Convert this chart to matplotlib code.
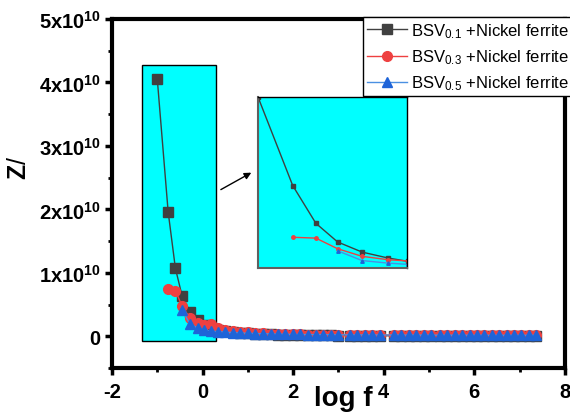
import matplotlib
matplotlib.use("Agg")
import matplotlib.pyplot as plt
import numpy as np
from matplotlib.patches import Rectangle
from matplotlib.ticker import FuncFormatter, MultipleLocator

plt.rcParams['font.family'] = ['Liberation Sans', 'DejaVu Sans']
plt.rcParams['mathtext.fontset'] = 'custom'
plt.rcParams['mathtext.rm'] = 'Liberation Sans'
plt.rcParams['mathtext.bf'] = 'Liberation Sans:bold'
plt.rcParams['mathtext.it'] = 'Liberation Sans:italic'
plt.rcParams['axes.unicode_minus'] = False

nan = np.nan

# log f (same sweep for all three samples)
logf = [-1.0, -0.76, -0.6, -0.45, -0.28, -0.1, 0.04, 0.19, 0.34, 0.5, 0.67, 0.83, 1.0,
        1.16, 1.33, 1.5, 1.66, 1.83, 2.0, 2.16, 2.33, 2.5, 2.66, 2.83, 2.98,
        3.25, 3.42, 3.58, 3.75, 3.92,
        4.22, 4.39, 4.55, 4.72, 4.89, 5.05,
        5.24, 5.4, 5.57, 5.73, 5.9, 6.06, 6.22, 6.39, 6.55, 6.72, 6.88, 7.04, 7.21, 7.37]

# Z' in units of 1e10
z_01 = [4.05, 1.96, 1.07, 0.63, 0.39, 0.25, 0.17, 0.13, 0.1, 0.08, 0.065, 0.055, 0.045,
        0.04, 0.035, 0.03, 0.027, 0.024, 0.021, 0.019, 0.017, 0.015, 0.014, 0.013, 0.012,
        0.011, 0.01, 0.009, 0.009, 0.008,
        0.008, 0.007, 0.007, 0.006, 0.006, 0.006,
        0.005, 0.005, 0.005, 0.004, 0.004, 0.004, 0.004, 0.003, 0.003, 0.003, 0.003, 0.003, 0.002, 0.002]
z_03 = [nan, 0.74, 0.72, 0.47, 0.29, 0.21, 0.18, 0.2, 0.13, 0.1, 0.085, 0.07, 0.06,
        0.052, 0.046, 0.041, 0.037, 0.034, 0.031, 0.029, 0.027, 0.025, 0.024, 0.023, 0.022,
        0.021, 0.02, 0.02, 0.019, 0.019,
        0.018, 0.018, 0.018, 0.017, 0.017, 0.017,
        0.016, 0.016, 0.016, 0.016, 0.015, 0.015, 0.015, 0.015, 0.015, 0.014, 0.014, 0.014, 0.014, 0.014]
z_05 = [nan, nan, nan, 0.42, 0.19, 0.13, 0.1, 0.08, 0.075, 0.065, 0.058, 0.052, 0.047,
        0.043, 0.04, 0.037, 0.034, 0.032, 0.03, 0.028, 0.027, 0.026, 0.025, 0.024, 0.023,
        0.022, 0.021, 0.021, 0.02, 0.02,
        0.02, 0.019, 0.019, 0.019, 0.018, 0.018,
        0.018, 0.018, 0.017, 0.017, 0.017, 0.017, 0.017, 0.016, 0.016, 0.016, 0.016, 0.016, 0.016, 0.016]

labels = ["BSV$_{0.1}$ +Nickel ferrite", "BSV$_{0.3}$ +Nickel ferrite", "BSV$_{0.5}$ +Nickel ferrite"]

x = np.array(logf)
y1 = np.array(z_01) * 1e10
y3 = np.array(z_03) * 1e10
y5 = np.array(z_05) * 1e10

fig = plt.figure(figsize=(5.7, 4.14), dpi=100)
ax = fig.add_axes([0.1965, 0.1087, 0.7945, 0.843])

# cyan zoom box behind the data
ax.add_patch(Rectangle((-1.34, -0.08e10), 1.64, 4.35e10, facecolor='#00FFFF',
                       edgecolor='black', linewidth=1, zorder=1))

ax.plot(x, y1, '-s', color='#404040', lw=1, ms=6.5, label=labels[0], zorder=3)
ax.plot(x, y3, '-o', color='#EE4040', mfc='#EE4040', mec='#EE4040', lw=1, ms=7,
        label=labels[1], zorder=3)
ax.plot(x, y5, '-^', color='#4A90E2', mfc='#1E64D8', mec='#1E64D8', lw=1, ms=7,
        label=labels[2], zorder=3)

ax.set_xlim(-2, 8)
ax.set_ylim(-0.5e10, 5e10)
ax.xaxis.set_major_locator(MultipleLocator(2))
ax.xaxis.set_minor_locator(MultipleLocator(1))
ax.yaxis.set_major_locator(MultipleLocator(1e10))
ax.yaxis.set_minor_locator(MultipleLocator(0.5e10))


def yfmt(v, pos):
    n = int(round(v / 1e10))
    if n == 0:
        return r'$\mathbf{0}$'
    return r'$\mathbf{%dx10^{10}}$' % n


ax.yaxis.set_major_formatter(FuncFormatter(yfmt))
ax.tick_params(which='major', direction='out', length=5, width=2.5, labelsize=14.5, pad=3)
ax.tick_params(which='minor', direction='out', length=3, width=2)
ax.tick_params(axis='x', which='major', pad=5)
for lab in ax.get_xticklabels():
    lab.set_fontweight('bold')
for s in ax.spines.values():
    s.set_linewidth(3)

ax.set_xlabel('log f', fontsize=20, fontweight='bold', va='top')
ax.xaxis.set_label_coords(0.51, -0.05)
ax.set_ylabel(r'$\mathbf{Z}$/', fontsize=18, va='center', ha='center')
ax.yaxis.set_label_coords(-0.205, 0.575)

leg = ax.legend(loc='upper left', bbox_to_anchor=(363 / 570, 1 - 18 / 414),
                bbox_transform=fig.transFigure, fontsize=12, frameon=True,
                fancybox=False, edgecolor='black', framealpha=1, borderpad=0.25,
                handlelength=2.4, handletextpad=0.25, labelspacing=0.45, borderaxespad=0)
leg.get_frame().set_linewidth(1)
leg.set_zorder(5)

ax.annotate('', xy=(1.13, 2.6e10), xytext=(0.35, 2.29e10),
            arrowprops=dict(arrowstyle='-|>', color='black', lw=1, mutation_scale=10))

# inset
ins = fig.add_axes([258 / 570, 1 - 269 / 414, 149 / 570, 171 / 414])
ins.set_facecolor('#00FFFF')
ins.plot(x, y1, '-s', color='#404040', lw=1, ms=2.5)
ins.plot(x, y3, '-o', color='#EE4040', lw=1, ms=2.5)
ins.plot(x, y5, '-^', color='#4A90E2', mfc='#1E64D8', mec='#1E64D8', lw=1, ms=2.5)
ins.set_xlim(-1.0, 0.03)
ins.set_ylim(0.015e10, 4.05e10)
ins.set_xticks([])
ins.set_yticks([])
for k, s in ins.spines.items():
    s.set_linewidth(1)
    s.set_color('black')
ins.spines['left'].set_color('#606060')
ins.spines['bottom'].set_color('#606060')
ins.spines['left'].set_linewidth(1.5)
ins.spines['bottom'].set_linewidth(1.5)

fig.savefig('out.png', dpi=100)
